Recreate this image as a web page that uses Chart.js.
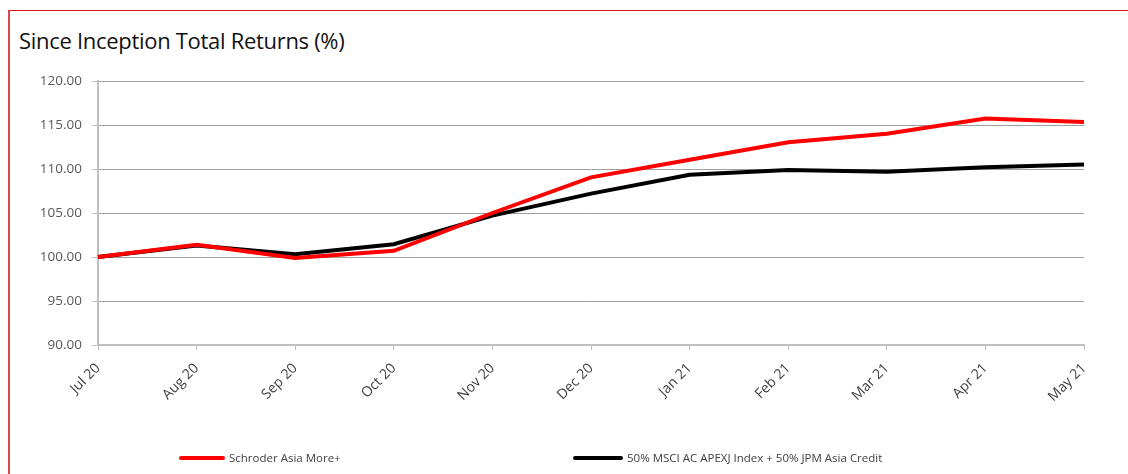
<!DOCTYPE html>
<html>
<head>
<meta charset="utf-8">
<title>Since Inception Total Returns</title>
<script src="https://cdn.jsdelivr.net/npm/chart.js@4"></script>
<style>
  body { margin: 0; background: #fff; font-family: "Open Sans", sans-serif; }
  #wrap { position: relative; width: 1128px; height: 474px; overflow: hidden; }
  #frame { position: absolute; left: 8px; top: 10px; width: 1130px; height: 470px;
           border-top: 1px solid #e0151b; border-left: 2px solid #d9494d; }
  #title { position: absolute; left: 19px; top: 25px; font-size: 22px; color: #111; letter-spacing: -0.3px; }
  canvas { position: absolute; left: 0; top: 0; }
  #legend { position: absolute; top: 450px; left: 0; font-size: 11.5px; color: #404040; }
  .item { position: absolute; white-space: nowrap; display: flex; align-items: center; }
  .swatch { display: inline-block; height: 4px; border-radius: 2px; margin-right: 4px; }
</style>
</head>
<body>
<div id="wrap">
  <div id="frame"></div>
  <div id="title">Since Inception Total Returns (%)</div>
  <canvas id="myChart" width="1128" height="474"></canvas>
  <div id="legend"></div>
</div>
<script>
// datos del grafico
const meses = ["Jul 20", "Aug 20", "Sep 20", "Oct 20", "Nov 20", "Dec 20", "Jan 21", "Feb 21", "Mar 21", "Apr 21", "May 21"];
const fondo = [100.0, 101.4, 99.9, 100.7, 105.0, 109.05, 111.05, 113.05, 114.0, 115.75, 115.35];
const indice = [100.0, 101.3, 100.3, 101.45, 104.7, 107.2, 109.35, 109.9, 109.7, 110.2, 110.5];
const nombres = ["Schroder Asia More+", "50% MSCI AC APEXJ Index + 50% JPM Asia Credit"];
const colores = ["#ff0000", "#000000"];
const yTicks = [90, 95, 100, 105, 110, 115, 120];

(() => {
    const ctx = document.getElementById('myChart').getContext('2d');
    Chart.defaults.font.family = '"Open Sans", sans-serif';

    const grafica = new Chart(ctx, {
        type: 'line',
        data: {
            labels: meses,
            datasets: [
                { label: nombres[0], data: fondo, borderColor: colores[0], borderWidth: 4, pointRadius: 0, tension: 0, fill: false },
                { label: nombres[1], data: indice, borderColor: colores[1], borderWidth: 4, pointRadius: 0, tension: 0, fill: false }
            ]
        },
        options: {
            responsive: false,
            animation: false,
            layout: { padding: { left: 0, top: 81, right: 44, bottom: 0 } },
            plugins: { legend: { display: false }, tooltip: { enabled: false } },
            scales: {
                x: {
                    offset: false,
                    grid: { drawOnChartArea: false, drawTicks: true, tickLength: 5, tickColor: '#bfbfbf', lineWidth: 1 },
                    border: { color: '#bfbfbf', width: 2 },
                    ticks: { color: '#404040', font: { size: 14 }, minRotation: 45, maxRotation: 45, padding: 10, autoSkip: false },
                    afterFit: (scale) => { scale.height = 129; }
                },
                y: {
                    min: yTicks[0],
                    max: yTicks[yTicks.length - 1],
                    afterBuildTicks: (scale) => { scale.ticks = yTicks.map(v => ({ value: v })); },
                    grid: { color: '#a0a0a0', lineWidth: 1, tickLength: 6, tickColor: '#bfbfbf' },
                    border: { color: '#bfbfbf', width: 2 },
                    ticks: { color: '#595959', font: { size: 13.5 }, padding: 10, callback: (v) => Number(v).toFixed(2) },
                    afterFit: (scale) => { scale.width = 98; }
                }
            }
        }
    });

    // leyenda en html
    const legend = document.getElementById('legend');
    const pos = [[179, 46], [573, 50]];
    nombres.forEach((n, i) => {
        const it = document.createElement('div');
        it.className = 'item';
        it.style.left = pos[i][0] + 'px';
        it.innerHTML = '<span class="swatch" style="width:' + pos[i][1] + 'px;background:' + colores[i] + '"></span>' + n;
        legend.appendChild(it);
    });
})()
</script>
</body>
</html>
